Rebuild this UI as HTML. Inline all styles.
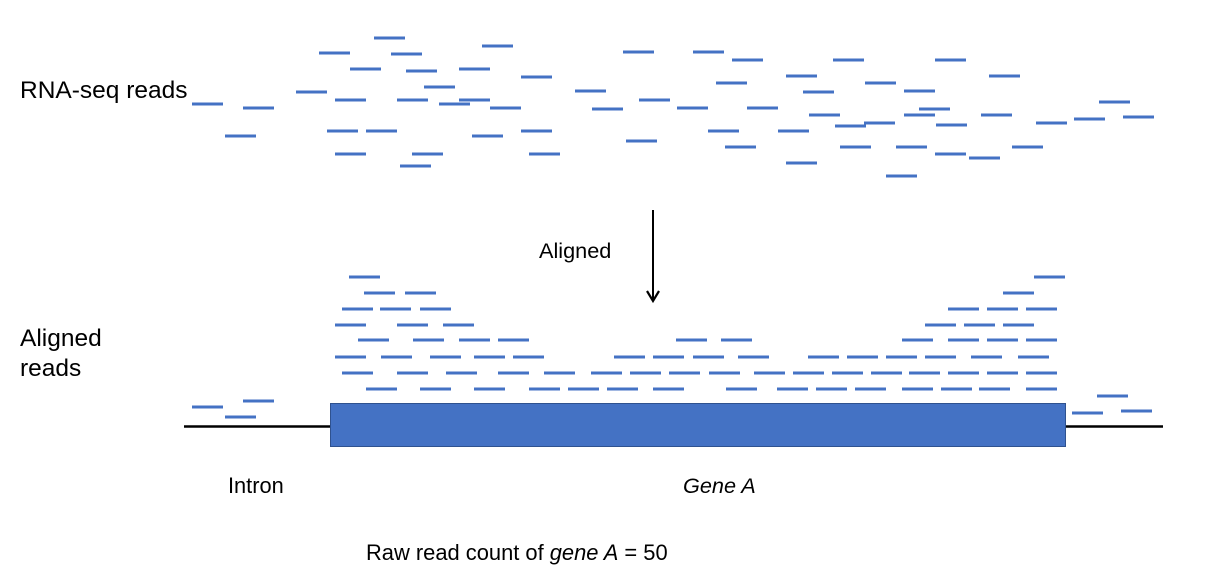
<!DOCTYPE html>
<html><head><meta charset="utf-8"><style>
html,body{margin:0;padding:0;background:#fff;}
svg{display:block;}
text{font-family:"Liberation Sans",Arial,sans-serif;fill:#000;}
</style></head><body>
<svg width="1226" height="574" viewBox="0 0 1226 574" xmlns="http://www.w3.org/2000/svg">
<g stroke="#4472C4" stroke-width="3" fill="none">
<path d="
M374 38h31 M482 46h31 M319 53h31 M391 54h31 M350 69h31 M406 71h31 M459 69h31 M521 77h31
M424 87h31 M296 92h31 M192 104h31 M243 108h31 M335 100h31 M397 100h31 M439 104h31 M459 100h31 M490 108h31
M225 136h31 M327 131h31 M366 131h31 M472 136h31 M521 131h31 M335 154h31 M412 154h31 M529 154h31 M400 166h31
M623 52h31 M693 52h31 M732 60h31 M833 60h31 M935 60h31 M786 76h31 M989 76h31 M716 83h31 M865 83h31
M575 91h31 M803 92h31 M904 91h31 M639 100h31 M592 109h31 M677 108h31 M747 108h31 M919 109h31 M1099 102h31
M809 115h31 M904 115h31 M981 115h31 M864 123h31 M835 126h31 M936 125h31 M1036 123h31 M1074 119h31 M1123 117h31
M708 131h31 M778 131h31 M626 141h31 M725 147h31 M840 147h31 M896 147h31 M935 154h31 M969 158h31 M1012 147h31
M786 163h31 M886 176h31
"/>
<path d="
M349 277h31 M1034 277h31
M364 293h31 M405 293h31 M1003 293h31
M342 309h31 M380 309h31 M420 309h31 M948 309h31 M987 309h31 M1026 309h31
M335 325h31 M397 325h31 M443 325h31 M925 325h31 M964 325h31 M1003 325h31
M358 340h31 M413 340h31 M459 340h31 M498 340h31 M676 340h31 M721 340h31 M902 340h31 M948 340h31 M987 340h31 M1026 340h31
M335 357h31 M381 357h31 M430 357h31 M474 357h31 M513 357h31 M614 357h31 M653 357h31 M693 357h31 M738 357h31 M808 357h31 M847 357h31 M886 357h31 M925 357h31 M971 357h31 M1018 357h31
M342 373h31 M397 373h31 M446 373h31 M498 373h31 M544 373h31 M591 373h31 M630 373h31 M669 373h31 M709 373h31 M754 373h31 M793 373h31 M832 373h31 M871 373h31 M909 373h31 M948 373h31 M987 373h31 M1026 373h31
M366 389h31 M420 389h31 M474 389h31 M529 389h31 M568 389h31 M607 389h31 M653 389h31 M726 389h31 M777 389h31 M816 389h31 M855 389h31 M902 389h31 M941 389h31 M979 389h31 M1026 389h31
M192 407h31 M243 401h31 M225 417h31 M1097 396h31 M1072 413h31 M1121 411h31
"/>
</g>
<line x1="184" y1="426.5" x2="1163" y2="426.5" stroke="#000" stroke-width="2.5"/>
<rect x="330.5" y="403.5" width="735" height="43" fill="#4472C4" stroke="#2F528F" stroke-width="1"/>
<line x1="653" y1="210" x2="653" y2="299" stroke="#000" stroke-width="2"/>
<path d="M647 291 L653 301 L659 291" stroke="#000" stroke-width="2.2" fill="none"/>
<text x="20" y="98" font-size="24.5">RNA-seq reads</text>
<text x="20" y="346" font-size="24.5">Aligned</text>
<text x="20" y="376" font-size="24.5">reads</text>
<text x="539" y="258" font-size="21.7">Aligned</text>
<text x="228" y="493" font-size="21.8">Intron</text>
<text x="683" y="493" font-size="21.7" font-style="italic">Gene A</text>
<text x="366" y="560" font-size="21.9">Raw read count of <tspan font-style="italic">gene A</tspan> = 50</text>
</svg>
</body></html>
